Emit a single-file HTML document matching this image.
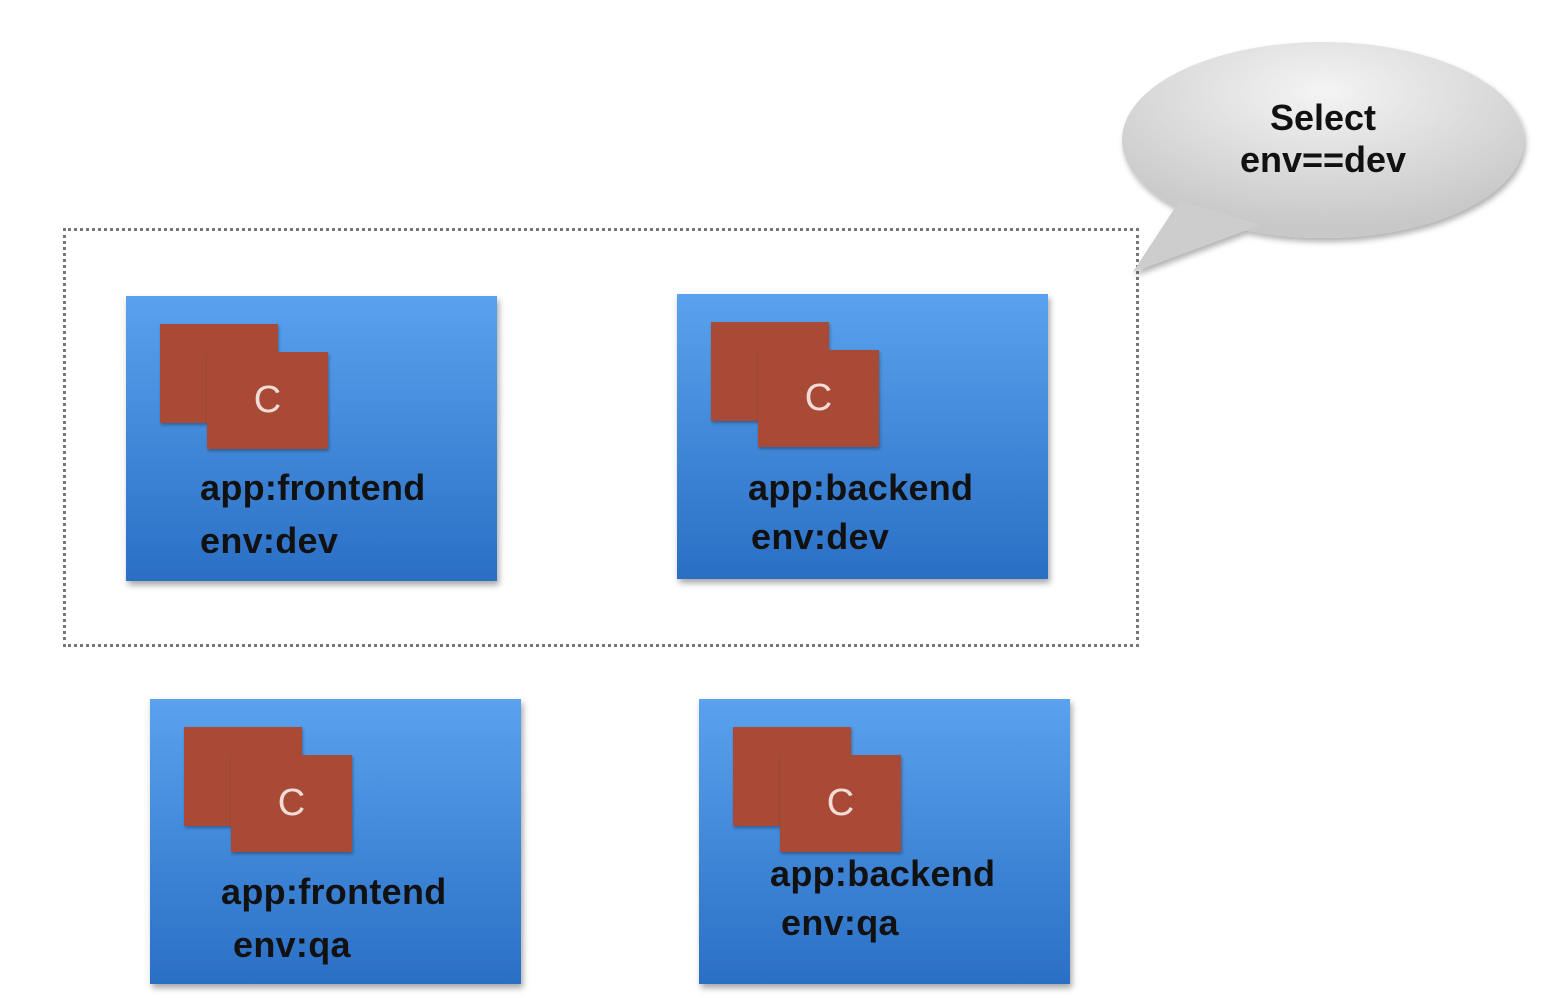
<!DOCTYPE html>
<html><head><style>
body{margin:0;width:1542px;height:1008px;background:#fff;position:relative;overflow:hidden;font-family:"Liberation Sans",Arial,sans-serif}
.box{position:absolute;width:371px;height:285px;background:linear-gradient(#5aa2ee,#2a6fc4);box-shadow:2px 4px 6px rgba(0,0,0,.35)}
.c{position:absolute;background:#a94a36;box-shadow:1px 2px 3px rgba(0,0,0,.3)}
.b{left:34px;top:28px;width:118px;height:99px}
.f{left:81px;top:56px;width:121px;height:97px;color:#f1ddd6;font-size:38px;text-align:center;line-height:97px}
.t{position:absolute;font-size:36px;font-weight:bold;color:#111;white-space:nowrap;letter-spacing:0.3px}
</style></head><body>
<div style="position:absolute;left:63px;top:228px;width:1070px;height:413px;border:3px dotted #777"></div>
<svg style="position:absolute;left:0;top:0" width="1542" height="1008">
<defs><radialGradient id="g" cx="50%" cy="25%" r="70%"><stop offset="0" stop-color="#f4f4f4"/><stop offset="1" stop-color="#c8c8c8"/></radialGradient>
<filter id="s"><feDropShadow dx="2" dy="4" stdDeviation="3" flood-opacity=".3"/></filter></defs>
<g filter="url(#s)" fill="url(#g)">
<ellipse cx="1323" cy="140" rx="201" ry="98"/>
<path d="M1180,200 L1260,225 L1133,272 Z" fill="#cdcdcd"/>
</g>
<text x="1323" y="130" text-anchor="middle" font-size="36" font-weight="bold" fill="#111" font-family="Liberation Sans">Select</text>
<text x="1323" y="172" text-anchor="middle" font-size="36" font-weight="bold" fill="#111" font-family="Liberation Sans">env==dev</text>
</svg>
<div class="box" style="left:126px;top:296px"><div class="c b"></div><div class="c f">C</div>
<div class="t" style="left:74px;top:171px">app:frontend</div><div class="t" style="left:74px;top:224px">env:dev</div></div>
<div class="box" style="left:677px;top:294px"><div class="c b"></div><div class="c f">C</div>
<div class="t" style="left:71px;top:173px">app:backend</div><div class="t" style="left:74px;top:222px">env:dev</div></div>
<div class="box" style="left:150px;top:699px"><div class="c b"></div><div class="c f">C</div>
<div class="t" style="left:71px;top:172px">app:frontend</div><div class="t" style="left:83px;top:225px">env:qa</div></div>
<div class="box" style="left:699px;top:699px"><div class="c b"></div><div class="c f">C</div>
<div class="t" style="left:71px;top:154px">app:backend</div><div class="t" style="left:82px;top:203px">env:qa</div></div>
</body></html>
